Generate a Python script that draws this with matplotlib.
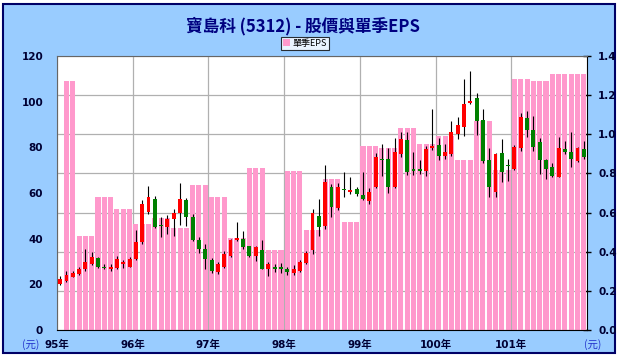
import numpy as np
import matplotlib
matplotlib.use("Agg")
import matplotlib.pyplot as plt
from matplotlib.patches import Rectangle, Patch

# ---------------- data ----------------
year_labels = ["95年", "96年", "97年", "98年", "99年", "100年", "101年"]

# quarterly EPS (元), 95Q1 .. 101Q4
eps_quarterly = [1.27, 0.48, 0.68, 0.62,
                 0.54, 0.57, 0.52, 0.74,
                 0.68, 0.47, 0.83, 0.41,
                 0.81, 0.51, 0.77, 0.55,
                 0.94, 0.93, 1.03, 0.95,
                 0.99, 0.87, 1.07, 0.82,
                 1.28, 1.27, 1.31, 1.31]

# monthly candles (元)
opens = [20.3, 21.6, 23.4, 24.6, 26.5, 29.0, 31.6, 27.8, 26.5, 27.2, 29.0, 27.8,
         31.0, 38.5, 51.8, 57.2, 46.0, 45.0, 48.8, 51.3, 56.9, 49.5, 39.5, 35.6,
         30.5, 25.3, 27.5, 32.5, 39.2, 40.0, 36.6, 32.2, 35.2, 26.9, 27.8, 26.9,
         26.5, 25.1, 25.7, 29.5, 34.9, 49.8, 45.4, 62.5, 53.5, 61.9, 60.5, 61.8,
         59.3, 56.6, 62.5, 75.0, 74.8, 62.5, 77.2, 83.0, 70.5, 70.2, 69.6, 79.6,
         81.0, 76.0, 76.9, 86.0, 89.0, 99.3, 101.8, 91.9, 74.6, 60.6, 77.5, 72.0,
         70.7, 79.7, 93.0, 87.5, 82.2, 74.6, 71.3, 67.2, 79.3, 78.1, 73.8, 79.3]
highs = [23.5, 25.7, 26.0, 27.5, 35.4, 34.0, 32.0, 29.0, 28.9, 32.5, 30.5, 32.0,
         44.0, 57.0, 63.0, 58.5, 49.5, 50.5, 53.0, 64.3, 58.0, 51.0, 40.7, 37.8,
         31.5, 29.7, 34.5, 40.0, 47.3, 43.4, 37.0, 37.0, 39.6, 29.7, 29.0, 29.5,
         27.5, 28.4, 30.8, 34.5, 53.0, 57.2, 72.3, 64.0, 64.5, 69.0, 67.2, 62.8,
         69.4, 62.0, 77.5, 81.6, 79.7, 84.0, 86.6, 86.6, 77.8, 74.6, 80.7, 97.0,
         84.0, 81.6, 91.5, 93.4, 110.0, 113.4, 103.7, 97.0, 79.7, 77.5, 83.7, 75.1,
         81.0, 95.1, 95.9, 93.7, 84.1, 74.8, 73.1, 84.6, 82.6, 86.6, 80.2, 82.6]
lows = [19.8, 21.0, 23.0, 24.3, 26.0, 28.5, 27.0, 26.5, 26.0, 26.8, 27.0, 27.5,
        30.5, 37.7, 51.0, 44.5, 40.7, 42.0, 41.0, 46.0, 45.4, 39.0, 33.8, 26.5,
        24.8, 24.6, 27.0, 32.0, 39.0, 35.5, 32.0, 30.4, 26.5, 23.8, 25.5, 25.0,
        24.0, 24.0, 25.3, 29.0, 33.4, 41.3, 44.4, 49.3, 52.5, 58.4, 59.5, 58.5,
        56.9, 55.4, 62.0, 67.5, 60.1, 62.0, 75.7, 67.9, 67.9, 68.4, 67.5, 79.0,
        74.6, 75.1, 76.0, 83.7, 85.0, 99.0, 85.6, 73.0, 58.1, 58.1, 65.0, 65.4,
        70.0, 78.2, 84.6, 78.2, 68.4, 66.0, 66.9, 67.0, 77.2, 71.3, 73.5, 75.0]
closes = [22.2, 24.3, 25.1, 26.9, 29.6, 31.9, 27.5, 27.0, 27.8, 31.0, 29.3, 31.2,
          38.5, 55.4, 58.1, 45.1, 45.5, 48.8, 51.3, 57.2, 49.5, 39.5, 35.6, 31.0,
          25.7, 28.8, 33.1, 39.6, 40.5, 36.3, 32.6, 36.2, 26.8, 28.7, 26.8, 26.8,
          25.2, 26.9, 29.7, 33.7, 51.3, 45.1, 64.6, 53.7, 62.8, 61.3, 61.0, 59.6,
          57.5, 60.4, 75.7, 74.5, 62.5, 78.1, 83.5, 69.4, 69.8, 69.8, 79.3, 80.5,
          76.0, 77.8, 86.6, 90.0, 98.8, 100.3, 91.5, 73.8, 62.5, 77.2, 69.4, 71.8,
          80.2, 93.4, 87.8, 80.2, 74.3, 70.5, 67.5, 79.7, 78.1, 75.1, 79.5, 75.7]

# ---------------- style ----------------
BG = "#99CCFF"
PINK = "#FF99CC"
RED = "#FF0000"
GREEN = "#008000"
NAVY = "#000080"
CJK = ["Noto Sans CJK TC", "DejaVu Sans"]
LAT = ["DejaVu Sans", "Noto Sans CJK TC"]

W, H = 622, 358
fig = plt.figure(figsize=(W / 100, H / 100), dpi=100)
fig.patch.set_facecolor("white")
fig.patches.append(Rectangle((3 / W, 1 - 353 / H), 612 / W, 349 / H,
                             transform=fig.transFigure, facecolor=BG,
                             edgecolor="#000066", linewidth=1.5, zorder=0))

rect = [57 / W, 28 / H, 530 / W, 274 / H]
ax_b = fig.add_axes(rect, zorder=1)             # EPS bars, right axis
ax_c = fig.add_axes(rect, sharex=ax_b, zorder=2)  # candles, left axis

n = len(opens)
x = np.arange(n) + 0.5

# bars (first month has no bar)
eps_monthly = np.repeat(np.array(eps_quarterly, dtype=float), 3)
eps_monthly[0] = np.nan
ax_b.set_facecolor("white")
ax_b.bar(x, eps_monthly, width=0.8, color=PINK, zorder=2, linewidth=0)
ax_b.set_ylim(0, 1.4)
ax_b.set_xlim(0, n)
ax_b.set_yticks(np.arange(0, 1.41, 0.2))
ax_b.set_yticklabels([f"{v:.1f}" for v in np.arange(0, 1.41, 0.2)])
ax_b.yaxis.tick_right()
ax_b.tick_params(axis="y", direction="inout", length=6, width=1, color="black",
                 pad=5, labelsize=7.5, labelcolor="#000033")
year_pos = np.arange(len(year_labels)) * 12
ax_b.set_xticks(year_pos)
ax_b.set_xticklabels(year_labels)
ax_b.tick_params(axis="x", length=0, pad=7, labelsize=7.5, labelcolor="#000033")
for lab in ax_b.get_xticklabels() + ax_b.get_yticklabels():
    lab.set_fontweight("bold")
    lab.set_family(LAT)
ax_b.grid(True, axis="both", color="#B0B0B0", linewidth=0.9, zorder=0)
ax_b.set_axisbelow(True)
for s in ["top", "left"]:
    ax_b.spines[s].set_color("#666666")
for s in ["right", "bottom"]:
    ax_b.spines[s].set_color("black")

# candles
ax_c.patch.set_visible(False)
ax_c.set_ylim(0, 120)
ax_c.set_yticks(np.arange(0, 121, 20))
ax_c.tick_params(axis="y", length=0, pad=10, labelsize=7.5, labelcolor="#000033")
ax_c.tick_params(axis="x", which="both", length=0, labelbottom=False)
for lab in ax_c.get_yticklabels():
    lab.set_fontweight("bold")
    lab.set_family(LAT)
for s in ax_c.spines.values():
    s.set_visible(False)

o = np.array(opens); c = np.array(closes)
hi = np.array(highs); lo = np.array(lows)
up = c >= o
ax_c.vlines(x, lo, hi, color="black", linewidth=0.8, zorder=3)
body_bottom = np.minimum(o, c)
body_h = np.maximum(np.abs(c - o), 0.6)
ax_c.bar(x, body_h, bottom=body_bottom, width=0.62,
         color=np.where(up, RED, GREEN), linewidth=0, zorder=4)

# title, legend, units
fig.text(303 / W, 1 - 26 / H, "寶島科 (5312) - 股價與單季EPS", ha="center",
         va="center", fontsize=12, fontweight="bold", color=NAVY, family=CJK)
leg = fig.legend(handles=[Patch(facecolor=PINK, edgecolor="none", label="單季EPS")],
                 loc="center", bbox_to_anchor=(305 / W, 1 - 43.5 / H),
                 frameon=True, fancybox=False, edgecolor="black",
                 prop={"family": CJK, "size": 6.5}, handlelength=0.8,
                 handleheight=0.8, handletextpad=0.3, borderpad=0.25,
                 borderaxespad=0)
leg.get_frame().set_linewidth(0.8)
fig.text(31 / W, 1 - 345 / H, "(元)", ha="center", va="center", fontsize=7.5,
         color="#2233CC", family=CJK)
fig.text(593 / W, 1 - 345 / H, "(元)", ha="center", va="center", fontsize=7.5,
         color="#2233CC", family=CJK)

fig.savefig("out.png", dpi=100, facecolor=fig.get_facecolor())
